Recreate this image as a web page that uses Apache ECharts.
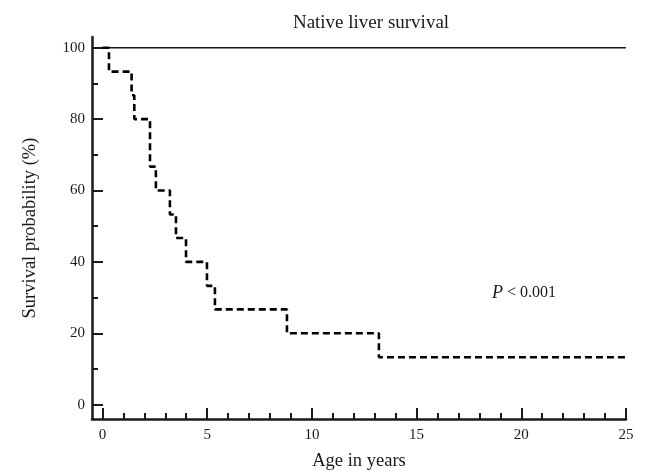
<!DOCTYPE html>
<html>
<head>
<meta charset="utf-8">
<script src="https://cdn.jsdelivr.net/npm/echarts@6/dist/echarts.min.js"></script>
<style>
  html, body { margin: 0; padding: 0; background: #fff; }
  #main { width: 646px; height: 471px; }
</style>
</head>
<body>
<div id="main"></div>
<script>
// event times (years) and survival (%) for the dashed curve
var eventTimes = [0, 0.31, 1.39, 1.52, 2.27, 2.55, 3.22, 3.51, 3.99, 4.99, 5.37, 8.81, 13.2, 25];
var survival   = [100, 93.3, 86.7, 80, 66.7, 60, 53.3, 46.7, 40, 33.3, 26.7, 20, 13.3, 13.3];
// solid curve, no events
var refTimes = [0, 25];
var refSurvival = [100, 100];

var xMajor = [0, 5, 10, 15, 20, 25];
var xMinor = [1, 2, 3, 4, 6, 7, 8, 9, 11, 12, 13, 14, 16, 17, 18, 19, 21, 22, 23, 24];
var yMajor = [0, 20, 40, 60, 80, 100];
var yMinor = [10, 30, 50, 70, 90];

function pairs(xs, ys) {
    var out = [];
    for (var i = 0; i < xs.length; i++) {
        out.push([xs[i], ys[i]]);
    }
    return out;
}

var font = '"Liberation Serif", "DejaVu Serif", serif';
var ink = '#1a1a1a';

var chart = echarts.init(document.getElementById('main'));

var baseAxis = {
    axisLine: { onZero: false, lineStyle: { color: ink, width: 2.5 } },
    splitLine: { show: false }
};

chart.setOption({
    animation: false,
    backgroundColor: '#fff',
    title: {
        text: 'Native liver survival',
        left: 366,
        top: 9,
        textAlign: 'center',
        textStyle: { fontFamily: font, fontSize: 19, fontWeight: 'normal', color: ink }
    },
    grid: { left: 92, right: 20, top: 37, bottom: 52, containLabel: false, outerBoundsMode: 'none' },
    xAxis: [
        echarts.util.merge({
            type: 'value', min: -0.5, max: 25, position: 'bottom',
            name: 'Age in years', nameLocation: 'middle', nameGap: 33,
            nameTextStyle: { fontFamily: font, fontSize: 18.5, color: ink },
            axisTick: { inside: true, length: 11, customValues: xMajor, lineStyle: { color: ink, width: 2 } },
            axisLabel: { customValues: xMajor, margin: 9, fontFamily: font, fontSize: 15, color: ink }
        }, baseAxis, true),
        {
            type: 'value', min: -0.5, max: 25, position: 'bottom',
            axisLine: { show: false, onZero: false },
            splitLine: { show: false },
            axisTick: { inside: true, length: 6, customValues: xMinor, lineStyle: { color: ink, width: 2 } },
            axisLabel: { show: false }
        }
    ],
    yAxis: [
        echarts.util.merge({
            type: 'value', min: -4, max: 103, position: 'left',
            name: 'Survival probability (%)', nameLocation: 'middle', nameGap: 52,
            nameTextStyle: { fontFamily: font, fontSize: 18.5, color: ink },
            axisTick: { inside: true, length: 11, customValues: yMajor, lineStyle: { color: ink, width: 2 } },
            axisLabel: { customValues: yMajor, margin: 7, fontFamily: font, fontSize: 15, color: ink }
        }, baseAxis, true),
        {
            type: 'value', min: -4, max: 103, position: 'left',
            axisLine: { show: false, onZero: false },
            splitLine: { show: false },
            axisTick: { inside: true, length: 6, customValues: yMinor, lineStyle: { color: ink, width: 2 } },
            axisLabel: { show: false }
        }
    ],
    series: [
        {
            type: 'line',
            data: pairs(refTimes, refSurvival),
            showSymbol: false,
            lineStyle: { color: ink, width: 1.6 },
            z: 2
        },
        {
            type: 'line',
            step: 'end',
            data: pairs(eventTimes, survival),
            showSymbol: false,
            lineStyle: { color: '#000', width: 2.6, type: [7, 4] },
            z: 3
        }
    ],
    graphic: [
        {
            type: 'text',
            left: 492,
            top: 284,
            style: {
                text: '{p|P} < 0.001',
                font: '16px ' + font,
                fill: ink,
                rich: {
                    p: { fontFamily: font, fontStyle: 'italic', fontSize: 18, fill: ink }
                }
            }
        }
    ]
});
</script>
</body>
</html>
